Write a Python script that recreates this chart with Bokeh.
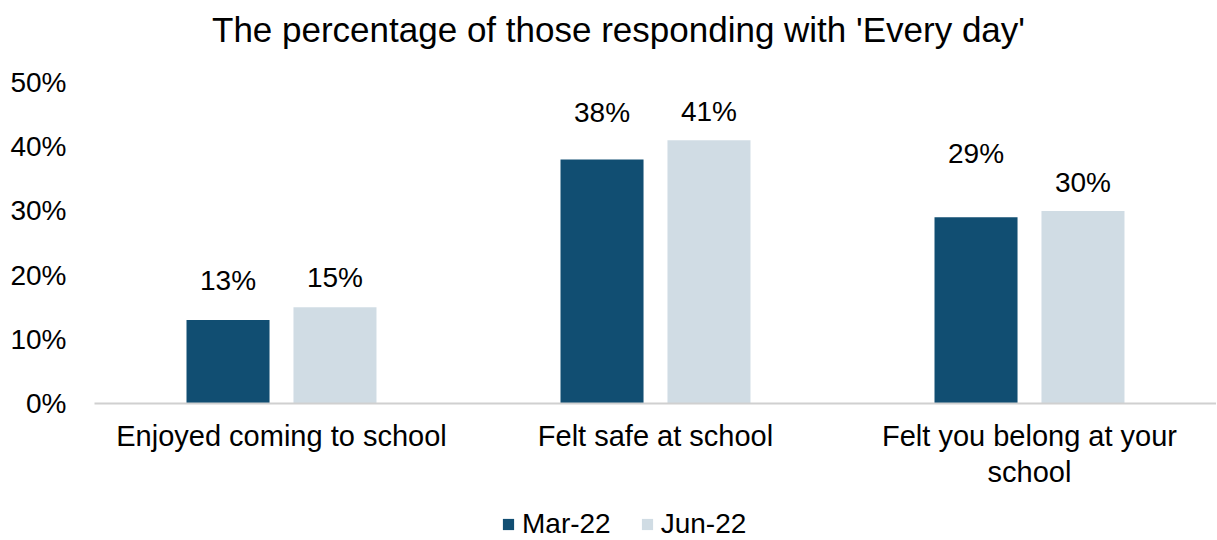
from bokeh.plotting import figure
from bokeh.models import (ColumnDataSource, FactorRange, Range1d, PrintfTickFormatter,
                          Legend, LegendItem, Div)
from bokeh.layouts import column
from bokeh.transform import dodge
from bokeh.core.properties import value
from bokeh.embed import file_html
from bokeh.resources import INLINE

# ---- data ----
categories = ["Enjoyed coming to school", "Felt safe at school",
              "Felt you belong at your\nschool"]
series_names = ["Mar-22", "Jun-22"]
mar_22 = [13, 38, 29]
jun_22 = [15, 41, 30]
y_ticks = [0, 10, 20, 30, 40, 50]
title_text = "The percentage of those responding with 'Every day'"

# ---- styles ----
C_MAR = "#114E72"
C_JUN = "#D0DCE4"
FONT = "Liberation Sans"
mar_label_gap = [40, 47, 64]
jun_label_gap = [30, 29, 28]

src = ColumnDataSource(dict(
    cat=categories,
    mar=mar_22, jun=jun_22,
    mar_txt=[f"{v}%" for v in mar_22],
    jun_txt=[f"{v}%" for v in jun_22],
))

title_div = Div(text=title_text, width=1216, height=42,
                styles={"font-family": FONT, "font-size": "35px",
                        "line-height": "35px", "color": "black",
                        "padding-left": "207px", "padding-top": "7px",
                        "white-space": "nowrap"})

p = figure(frame_width=1122, frame_height=321, output_backend="svg", toolbar_location=None,
           x_range=FactorRange(*categories, range_padding=0),
           y_range=Range1d(0, 50), title=None)
p.min_border_left = 94
p.min_border_right = 0
p.min_border_top = 30
p.min_border_bottom = 0
p.outline_line_color = None
p.background_fill_color = "white"
p.border_fill_color = "white"
p.xgrid.grid_line_color = None
p.ygrid.grid_line_color = None

bw = 0.222
off = 0.143
r1 = p.vbar(x=dodge("cat", -off, range=p.x_range), top="mar", width=bw,
            source=src, fill_color=C_MAR, line_color=None)
r2 = p.vbar(x=dodge("cat", off, range=p.x_range), top="jun", width=bw,
            source=src, fill_color=C_JUN, line_color=None)

# value labels
for col, txt, gaps, sign in (("mar", "mar_txt", mar_label_gap, -off),
                             ("jun", "jun_txt", jun_label_gap, off)):
    for i, c in enumerate(categories):
        s = ColumnDataSource(dict(cat=[c], v=[src.data[col][i]], t=[src.data[txt][i]]))
        p.text(x=dodge("cat", sign, range=p.x_range), y="v", text="t", source=s,
               text_align="center", text_baseline="alphabetic",
               y_offset=-gaps[i], text_font=value(FONT),
               text_font_size="28px", text_color="black")

p.yaxis.ticker = y_ticks
p.yaxis.formatter = PrintfTickFormatter(format="%d%%")
p.yaxis.axis_line_color = None
p.yaxis.major_tick_line_color = None
p.yaxis.minor_tick_line_color = None
p.yaxis.major_tick_out = 0
p.yaxis.major_tick_in = 0
p.yaxis.major_label_standoff = 28
p.yaxis.major_label_text_font = FONT
p.yaxis.major_label_text_font_size = "28px"
p.yaxis.major_label_text_color = "black"

p.xaxis.axis_line_color = "#D0D0D0"
p.xaxis.axis_line_width = 2
p.xaxis.major_tick_line_color = None
p.xaxis.minor_tick_line_color = None
p.xaxis.major_tick_out = 0
p.xaxis.major_tick_in = 0
p.xaxis.major_label_standoff = 16
p.xaxis.major_label_text_font = FONT
p.xaxis.major_label_text_font_size = "29px"
p.xaxis.major_label_text_line_height = 1.15
p.xaxis.major_label_text_color = "black"
p.xaxis.major_label_orientation = "horizontal"

# ---- legend strip (separate small figure so it is not clipped) ----
lf = figure(frame_width=1216, frame_height=50, output_backend="svg", toolbar_location=None,
            x_range=Range1d(0, 1), y_range=Range1d(0, 1), title=None)
lf.min_border_left = 0
lf.min_border_right = 0
lf.min_border_top = 0
lf.min_border_bottom = 0
lf.outline_line_color = None
lf.axis.visible = False
lf.grid.visible = False
# legend proxies: a single hidden bar each, placed outside the visible range
proxy = dict(x=[-5], top=[0])
l1 = lf.vbar(x="x", top="top", width=0.1, source=ColumnDataSource(proxy),
             fill_color=C_MAR, line_color=None)
l2 = lf.vbar(x="x", top="top", width=0.1, source=ColumnDataSource(dict(proxy)),
             fill_color=C_JUN, line_color=None)
legend = Legend(items=[LegendItem(label=series_names[0], renderers=[l1]),
                       LegendItem(label=series_names[1], renderers=[l2])],
                orientation="horizontal", location=(501, 1),
                glyph_width=14, glyph_height=14, label_standoff=7, spacing=29,
                padding=0, margin=0, border_line_color=None,
                background_fill_alpha=0, label_text_font=FONT,
                label_text_line_height=1.0, label_height=28,
                label_text_font_size="28px", label_text_color="black")
lf.add_layout(legend, "center")

layout = column(title_div, p, lf, spacing=0)
open("out.html", "w").write(file_html(layout, INLINE))
